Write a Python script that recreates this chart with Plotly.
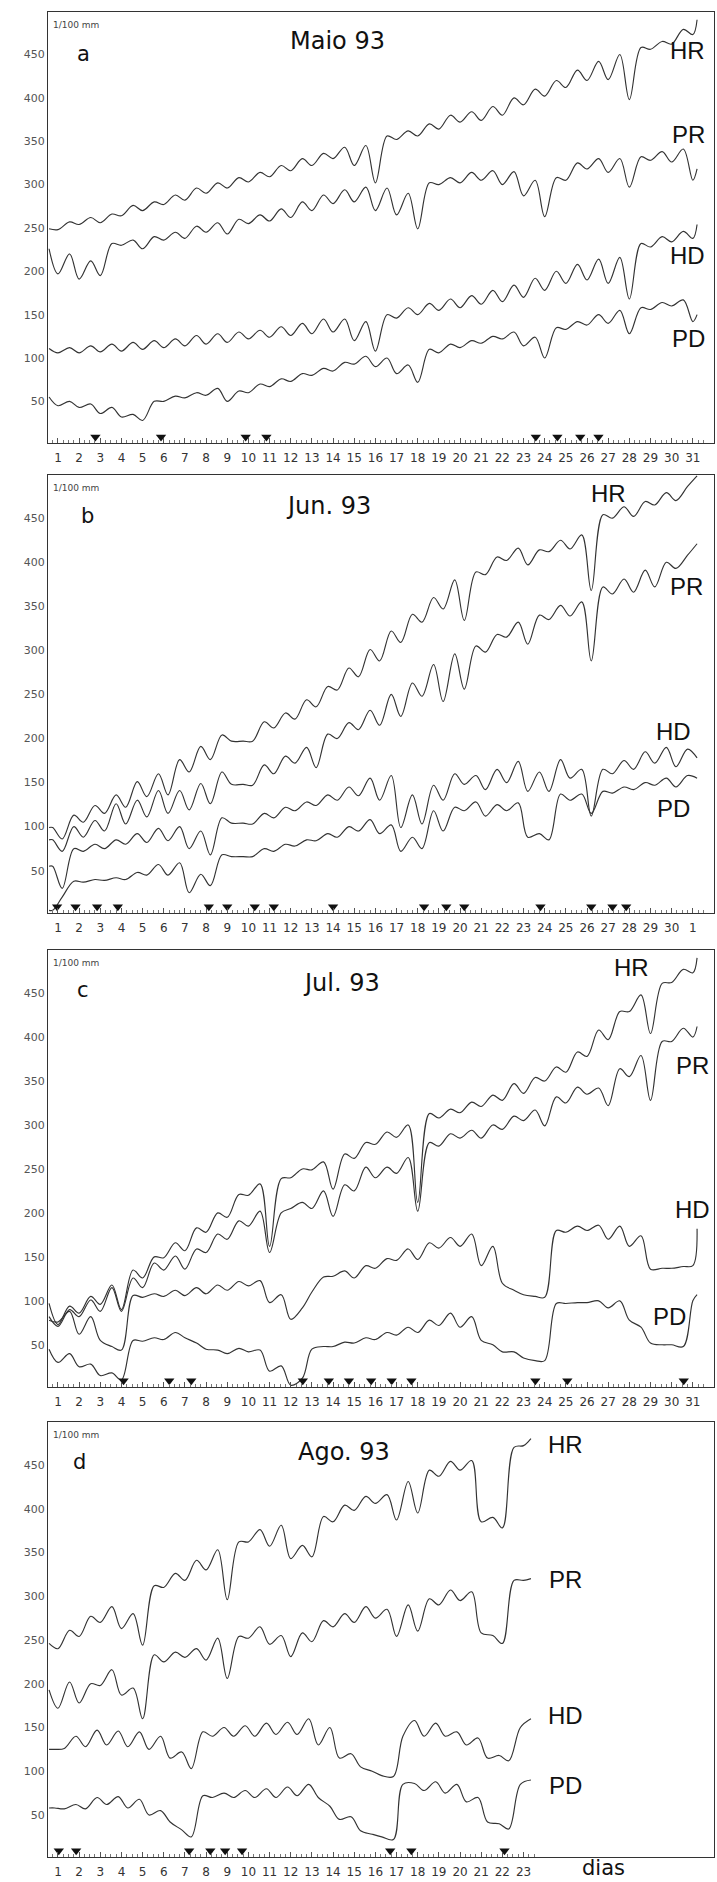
import plotly.graph_objects as go

# ---------------- DATA (1/100 mm) ----------------
# For every series: daily peak values, daily trough values, [start, end] values
MAY_HR_PEAK = [250,257,262,266,276,280,288,296,302,308,314,322,330,336,343,345,356,362,370,380,384,390,400,410,420,432,442,450,458,465,479]
MAY_HR_TROUGH = [248,254,256,264,270,277,282,290,296,303,309,316,322,330,322,302,352,356,364,372,374,380,392,402,412,420,421,398,456,462,473]
MAY_HR_ENDS = [249, 490]
MAY_PR_PEAK = [226,220,212,232,236,240,245,252,256,260,265,272,280,288,294,297,296,290,302,308,314,316,315,305,308,325,330,330,332,338,341]
MAY_PR_TROUGH = [197,191,195,230,226,236,238,245,243,255,258,262,270,278,280,270,265,249,300,302,305,300,287,263,305,318,314,297,328,326,305]
MAY_PR_ENDS = [226, 318]
MAY_HD_PEAK = [111,112,114,116,118,120,122,126,128,130,132,136,140,145,145,142,150,158,163,168,172,178,184,192,200,208,214,216,232,240,246]
MAY_HD_TROUGH = [106,106,107,108,110,112,114,116,118,122,124,126,128,130,120,108,146,150,155,158,162,165,170,178,186,190,186,168,228,234,238]
MAY_HD_ENDS = [111, 254]
MAY_PD_PEAK = [55,50,47,43,35,50,56,60,65,62,70,76,82,88,95,102,100,92,110,116,120,125,130,124,135,142,150,155,158,164,167]
MAY_PD_TROUGH = [45,43,36,32,28,50,54,57,50,60,67,73,80,85,93,90,82,72,106,112,117,122,114,100,133,138,140,128,156,160,142]
MAY_PD_ENDS = [55, 150]

JUN_HR_PEAK = [99,113,124,136,151,160,176,191,204,197,219,229,244,259,280,301,322,341,360,380,389,406,416,414,425,431,454,463,469,479,486]
JUN_HR_TROUGH = [86,105,115,122,134,136,162,176,197,197,212,222,236,255,270,288,309,332,347,334,386,402,397,412,415,368,450,452,465,470,482]
JUN_HR_ENDS = [99, 498]
JUN_PR_PEAK = [85,100,107,126,130,141,141,149,162,148,170,180,190,205,218,232,250,263,284,296,305,318,332,340,351,355,372,381,391,400,408]
JUN_PR_TROUGH = [72,88,95,103,111,115,119,126,148,147,160,172,167,200,210,215,225,248,242,256,298,315,307,335,339,288,364,366,372,393,404]
JUN_PR_ENDS = [85, 421]
JUN_HD_PEAK = [55,75,80,85,92,98,100,95,110,104,115,122,128,136,145,155,158,136,147,160,158,165,174,162,176,165,165,175,185,190,188]
JUN_HD_TROUGH = [30,72,75,80,82,84,75,68,104,103,110,118,124,130,135,130,99,103,130,148,142,150,140,140,155,112,160,165,172,168,162]
JUN_HD_ENDS = [55, 178]
JUN_PD_PEAK = [5,38,40,42,48,57,59,46,68,66,75,80,85,92,100,108,102,88,118,122,128,125,127,92,137,137,140,145,150,155,158]
JUN_PD_TROUGH = [20,37,39,40,45,45,25,33,66,66,72,78,84,88,95,92,72,75,95,118,112,118,88,85,130,115,138,142,147,145,145]
JUN_PD_ENDS = [5, 155]

JUL_HR_PEAK = [97,94,105,118,135,150,166,183,200,221,233,239,250,258,267,280,292,300,313,318,326,334,347,354,366,383,408,429,448,461,477]
JUL_HR_TROUGH = [73,86,96,90,126,149,157,178,195,220,162,240,249,227,262,278,286,212,308,314,321,328,336,350,360,378,397,429,404,462,473]
JUL_HR_ENDS = [97, 490]
JUL_PR_PEAK = [82,90,101,115,126,143,151,159,176,191,202,200,212,225,232,252,252,263,280,290,294,300,310,317,332,343,342,364,379,395,410]
JUL_PR_TROUGH = [71,82,88,88,115,135,136,155,170,185,155,205,205,196,225,240,245,202,276,285,285,295,305,299,325,335,322,355,328,395,400]
JUL_PR_ENDS = [82, 412]
JUL_HD_PEAK = [78,88,82,48,106,108,112,115,118,122,123,107,92,127,134,140,148,159,166,172,176,162,112,105,180,185,186,185,174,137,139]
JUL_HD_TROUGH = [76,62,55,44,104,105,106,108,112,117,98,79,110,128,126,137,146,147,160,162,140,120,107,104,178,180,170,162,136,137,140]
JUL_HD_ENDS = [78, 182]
JUL_PD_PEAK = [45,40,28,18,55,58,64,52,44,46,44,26,12,48,53,58,64,70,78,86,82,50,42,32,97,98,100,100,70,50,48]
JUL_PD_TROUGH = [30,25,15,10,54,56,58,45,40,42,20,4,45,48,52,56,61,64,72,70,55,42,35,32,97,98,92,78,52,50,100]
JUL_PD_ENDS = [45, 107]

AGO_HR_PEAK = [246,261,277,288,280,312,326,341,353,362,376,381,358,391,404,414,416,431,444,454,455,390,470]
AGO_HR_TROUGH = [240,254,270,263,244,310,318,330,296,362,357,343,345,385,398,406,387,395,437,444,385,378,472]
AGO_HR_ENDS = [246, 480]
AGO_PR_PEAK = [193,202,200,216,195,233,236,240,252,254,265,255,258,272,280,288,285,290,297,307,305,255,318]
AGO_PR_TROUGH = [172,178,198,187,160,225,230,227,206,252,245,231,248,265,270,275,254,260,290,295,258,246,318]
AGO_PR_ENDS = [193, 320]
AGO_HD_PEAK = [125,140,147,146,145,140,122,145,150,152,155,156,160,150,120,100,94,158,155,145,138,118,150]
AGO_HD_TROUGH = [126,128,130,128,125,115,103,140,140,140,142,142,130,115,105,95,140,140,140,130,115,112,150]
AGO_HD_ENDS = [125, 160]
AGO_PD_PEAK = [58,62,70,71,68,55,33,72,75,78,80,82,85,60,48,28,22,86,88,85,70,40,85]
AGO_PD_TROUGH = [57,57,62,58,50,42,25,70,70,70,70,72,70,45,32,25,85,78,75,65,42,34,86]
AGO_PD_ENDS = [58, 90]

# rain events (arrowheads on the day axis)
RAIN_MAY = [2.77, 5.87, 9.87, 10.85, 23.58, 24.6, 25.68, 26.54]
RAIN_JUN = [0.96, 1.83, 2.85, 3.83, 8.13, 9.0, 10.3, 11.2, 14.0, 18.3, 19.35, 20.2, 23.8, 26.2, 27.2, 27.85]
RAIN_JUL = [4.1, 6.26, 7.3, 12.57, 13.8, 14.75, 15.8, 16.77, 17.7, 23.56, 25.07, 30.57]
RAIN_AGO = [1.04, 1.86, 7.2, 8.2, 8.9, 9.7, 16.7, 17.7, 22.1]

# day tick labels
DAYS_MAY = [str(d) for d in range(1, 32)]
DAYS_JUN = [str(d) for d in range(1, 31)] + ["1"]
DAYS_JUL = [str(d) for d in range(1, 32)]
DAYS_AGO = [str(d) for d in range(1, 24)]

SERIES_NAMES = ["HR", "PR", "HD", "PD"]
Y_TICKS = [50, 100, 150, 200, 250, 300, 350, 400, 450]

# ---------------- LAYOUT helpers ----------------
W, H = 717, 1882
X0, X1 = 48, 714
PANEL_PX = [(12, 443), (475, 913), (950, 1387), (1422, 1857)]
LINE = "#333333"


def build(peak, trough, ends, off, xend, xs=0.58):
    xs_, ys_ = [xs], [ends[0]]
    for k in range(1, len(peak) + 1):
        xp = k + off - 0.45
        if xs + 0.1 < xp < xend - 0.1:
            xs_.append(xp); ys_.append(peak[k - 1])
        xt = k + off
        if xs + 0.1 < xt < xend - 0.1:
            xs_.append(xt); ys_.append(trough[k - 1])
    xs_.append(xend); ys_.append(ends[1])
    return xs_, ys_


panels = [
    dict(title="Maio 93", letter="a", days=DAYS_MAY, rain=RAIN_MAY, xend=31.2,
         series=[(MAY_HR_PEAK, MAY_HR_TROUGH, MAY_HR_ENDS, 0.0),
                 (MAY_PR_PEAK, MAY_PR_TROUGH, MAY_PR_ENDS, 0.0),
                 (MAY_HD_PEAK, MAY_HD_TROUGH, MAY_HD_ENDS, 0.0),
                 (MAY_PD_PEAK, MAY_PD_TROUGH, MAY_PD_ENDS, 0.0)],
         labels=[(31.67, 455, "right"), (31.67, 358, "right"), (31.67, 218, "right"), (31.67, 122, "right")],
         tpos=(14.2, 466), lpos=(2.2, 451)),
    dict(title="Jun. 93", letter="b", days=DAYS_JUN, rain=RAIN_JUN, xend=31.2,
         series=[(JUN_HR_PEAK, JUN_HR_TROUGH, JUN_HR_ENDS, 0.2),
                 (JUN_PR_PEAK, JUN_PR_TROUGH, JUN_PR_ENDS, 0.2),
                 (JUN_HD_PEAK, JUN_HD_TROUGH, JUN_HD_ENDS, 0.2),
                 (JUN_PD_PEAK, JUN_PD_TROUGH, JUN_PD_ENDS, 0.2)],
         labels=[(27.0, 478, "center"), (30.7, 373, "center"), (30.1, 208, "center"), (30.1, 121, "center")],
         tpos=(13.8, 464), lpos=(2.4, 453)),
    dict(title="Jul. 93", letter="c", days=DAYS_JUL, rain=RAIN_JUL, xend=31.2,
         series=[(JUL_HR_PEAK, JUL_HR_TROUGH, JUL_HR_ENDS, 0.0),
                 (JUL_PR_PEAK, JUL_PR_TROUGH, JUL_PR_ENDS, 0.0),
                 (JUL_HD_PEAK, JUL_HD_TROUGH, JUL_HD_ENDS, 0.0),
                 (JUL_PD_PEAK, JUL_PD_TROUGH, JUL_PD_ENDS, 0.0)],
         labels=[(28.1, 479, "center"), (31.0, 368, "center"), (31.0, 204, "center"), (29.9, 82, "center")],
         tpos=(14.4, 462), lpos=(2.2, 453)),
    dict(title="Ago. 93", letter="d", days=DAYS_AGO, rain=RAIN_AGO, xend=23.35,
         series=[(AGO_HR_PEAK, AGO_HR_TROUGH, AGO_HR_ENDS, 0.0),
                 (AGO_PR_PEAK, AGO_PR_TROUGH, AGO_PR_ENDS, 0.0),
                 (AGO_HD_PEAK, AGO_HD_TROUGH, AGO_HD_ENDS, 0.3),
                 (AGO_PD_PEAK, AGO_PD_TROUGH, AGO_PD_ENDS, 0.3)],
         labels=[(25.0, 473, "center"), (25.0, 319, "center"), (25.0, 164, "center"), (25.0, 84, "center")],
         tpos=(14.5, 465), lpos=(2.0, 453)),
]

fig = go.Figure()
annotations = []
FONT = "DejaVu Sans"

for i, p in enumerate(panels, start=1):
    xa = "x" if i == 1 else f"x{i}"
    ya = "y" if i == 1 else f"y{i}"
    for name, (pk, tr, ends, off) in zip(SERIES_NAMES, p["series"]):
        xs, ys = build(pk, tr, ends, off, p["xend"])
        fig.add_trace(go.Scatter(x=xs, y=ys, mode="lines", name=name, xaxis=xa, yaxis=ya,
                                 line=dict(color=LINE, width=1.15, shape="spline", smoothing=1.0),
                                 showlegend=False, hoverinfo="skip"))
    fig.add_trace(go.Scatter(x=p["rain"], y=[9] * len(p["rain"]), mode="markers", xaxis=xa, yaxis=ya,
                             marker=dict(symbol="triangle-down", size=9, color="#111"),
                             showlegend=False, hoverinfo="skip"))
    top, bot = PANEL_PX[i - 1]
    xkey = "xaxis" if i == 1 else f"xaxis{i}"
    ykey = "yaxis" if i == 1 else f"yaxis{i}"
    n = len(p["days"])
    minor_vals = [0.75 + 0.25 * j for j in range(int((n + 0.5 - 0.75) / 0.25) + 1)]
    fig.update_layout({
        xkey: dict(domain=[X0 / W, X1 / W], range=[0.53, 32.0], anchor=ya,
                   tickvals=list(range(1, n + 1)), ticktext=p["days"],
                   ticks="inside", ticklen=5, tickcolor="#555", tickwidth=1,
                   minor=dict(ticks="inside", ticklen=3, tickmode="array", tickvals=minor_vals,
                              tickcolor="#777"),
                   showline=True, linecolor=LINE, linewidth=1.3, mirror=True,
                   showgrid=False, zeroline=False, ticklabelstandoff=3,
                   tickfont=dict(family=FONT, size=12, color="#333")),
        ykey: dict(domain=[1 - bot / H, 1 - top / H], range=[2, 499], anchor=xa,
                   tickvals=Y_TICKS, ticks="", showline=True, linecolor=LINE, linewidth=1.3,
                   mirror=True, showgrid=False, zeroline=False,
                   tickfont=dict(family=FONT, size=11, color="#555")),
    })
    annotations.append(dict(x=p["tpos"][0], y=p["tpos"][1], xref=xa, yref=ya, text=p["title"],
                            showarrow=False, font=dict(family=FONT, size=24, color="#111")))
    annotations.append(dict(x=p["lpos"][0], y=p["lpos"][1], xref=xa, yref=ya, text=p["letter"],
                            showarrow=False, font=dict(family=FONT, size=21, color="#111")))
    annotations.append(dict(x=0.68, y=484, xref=xa, yref=ya, text="1/100 mm", xanchor="left",
                            showarrow=False, font=dict(family=FONT, size=9, color="#444")))
    for name, (lx, ly, anc) in zip(SERIES_NAMES, p["labels"]):
        annotations.append(dict(x=lx, y=ly, xref=xa, yref=ya, text=name, xanchor=anc,
                                showarrow=False, font=dict(family="Liberation Sans", size=24, color="#111")))

annotations.append(dict(x=26.8, y=1 - 1881 / H, xref="x4", yref="paper", yanchor="bottom", text="dias",
                        showarrow=False, borderpad=0,
                        font=dict(family=FONT, size=21, color="#111")))

fig.update_layout(width=W, height=H, margin=dict(l=0, r=0, t=0, b=0),
                  paper_bgcolor="white", plot_bgcolor="white", annotations=annotations)

fig.write_html("out.html")
